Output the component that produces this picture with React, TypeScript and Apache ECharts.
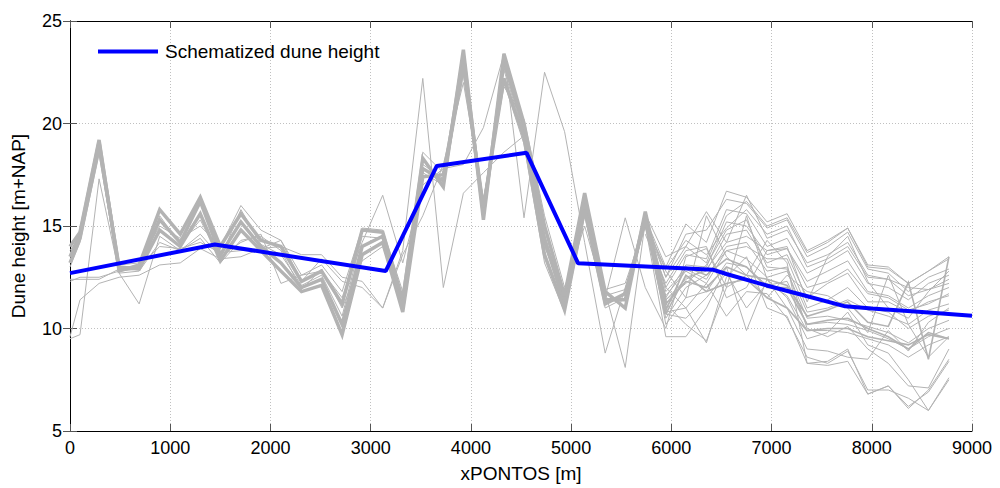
import React, { useEffect, useRef } from "react";
import * as echarts from "echarts";

// Sample positions along the coast [m]
const X = [0, 100, 290, 490, 690, 895, 1100, 1300, 1500, 1705, 1905, 2105, 2310, 2510, 2715, 2915, 3120, 3320, 3520, 3725, 3925, 4125, 4330, 4530, 4735, 4935, 5135, 5340, 5540, 5740, 5945, 6145, 6350, 6550, 6750, 6955, 7155, 7355, 7560, 7760, 7960, 8165, 8365, 8565, 8770];

// Dense bundle of profiles (drawn thicker where they overlap)
const BUNDLE_A = [13.5, 14.6, 19.1, 12.9, 13.0, 15.3, 14.2, 16.2, 13.6, 15.2, 14.0, 13.2, 12.0, 12.4, 10.2, 14.0, 14.5, 11.0, 17.8, 17.2, 23.3, 15.6, 23.0, 19.8, 14.3, 11.2, 16.2, 11.4, 11.4, 15.5, 10.9, 13.0, 12.6, 13.4, 13.0, 12.0, 12.0, 10.2, 10.4, 10.5, 10.0, 9.6, 9.0, 9.8, 9.5];
const BUNDLE_B = [14.0, 14.7, 19.2, 12.8, 13.1, 15.8, 14.6, 16.4, 14.0, 15.6, 14.3, 14.0, 12.3, 12.8, 11.2, 14.8, 14.7, 11.4, 18.3, 16.9, 23.6, 15.3, 23.4, 20.0, 15.0, 11.6, 16.6, 11.8, 11.0, 15.7, 11.2, 12.3, 12.0, 13.0, 12.6, 12.4, 12.1, 10.6, 10.9, 11.3, 10.3, 10.1, 12.25, 8.5, 13.5];
const BUNDLE_C = [13.2, 14.4, 18.9, 13.0, 12.9, 14.8, 14.0, 15.6, 13.3, 14.8, 13.8, 12.8, 11.8, 12.1, 9.7, 13.6, 14.2, 10.8, 17.4, 17.5, 22.8, 15.9, 22.2, 19.3, 13.6, 10.9, 15.8, 11.2, 11.7, 15.3, 10.7, 12.6, 11.8, 12.2, 12.4, 11.5, 11.0, 9.9, 10.0, 10.0, 9.6, 9.4, 9.2, 9.7, 9.5];
// Index from which the bundle spreads out (drawn thin)
const BUNDLE_SPLIT = 30;

// Individual profiles over the full length
const PROFILE_1 = [9.6, 11.4, 12.2, 12.5, 12.6, 13.1, 13.2, 13.9, 13.4, 13.5, 13.9, 14.0, 13.6, 13.6, 12.5, 12.3, 11.0, 13.8, 22.2, 12.0, 16.6, 17.6, 18.6, 19.4, 14.5, 11.5, 16.0, 11.8, 8.1, 15.2, 12.5, 14.0, 13.2, 15.5, 16.2, 15.0, 15.4, 13.7, 14.2, 14.9, 13.0, 12.9, 12.2, 12.8, 13.5];
const PROFILE_2 = [9.5, 9.7, 17.3, 12.7, 11.2, 14.5, 13.8, 14.6, 13.5, 14.2, 14.6, 12.2, 12.6, 12.8, 11.5, 14.2, 16.5, 13.2, 17.0, 17.8, 18.0, 19.8, 23.4, 15.4, 22.5, 19.6, 14.2, 8.8, 12.0, 15.0, 12.0, 11.0, 9.3, 12.5, 13.5, 11.0, 10.6, 8.3, 8.4, 9.0, 6.8, 7.2, 6.1, 7.0, 8.5];
const PROFILE_3 = [12.4, 12.4, 12.4, 12.9, 13.0, 14.0, 13.9, 14.2, 13.7, 13.8, 13.9, 14.3, 12.3, 13.4, 12.3, 12.0, 11.0, 13.6, 15.5, 18.0, 22.0, 16.3, 21.8, 20.2, 15.5, 12.0, 15.0, 11.5, 15.4, 12.0, 10.0, 13.5, 13.9, 12.0, 15.5, 12.4, 11.5, 9.5, 9.8, 10.8, 9.2, 8.8, 7.5, 6.0, 7.5];
const PROFILE_4 = [13.8, 14.5, 18.8, 13.1, 13.2, 15.0, 14.4, 15.0, 14.0, 16.0, 14.8, 14.3, 12.6, 13.1, 11.8, 14.9, 14.8, 11.8, 18.6, 17.6, 23.0, 16.2, 22.6, 19.5, 14.0, 11.5, 16.0, 11.9, 12.2, 15.1, 12.9, 14.3, 13.6, 14.9, 15.8, 14.6, 15.0, 13.0, 13.4, 14.0, 12.5, 12.4, 11.6, 11.9, 12.4];
const PROFILE_5 = [13.0, 14.2, 18.5, 12.7, 12.8, 14.2, 13.8, 14.4, 13.2, 14.3, 14.5, 13.8, 11.9, 12.9, 11.0, 13.3, 14.0, 11.2, 17.6, 17.0, 22.4, 15.8, 22.0, 19.0, 13.2, 10.8, 15.5, 11.0, 11.5, 15.0, 11.6, 12.8, 12.2, 13.8, 14.0, 13.4, 13.4, 11.0, 11.4, 12.0, 11.0, 10.8, 10.0, 10.6, 10.9];
const PROFILE_6 = [12.3, 12.5, 12.5, 12.8, 12.9, 15.5, 14.1, 15.3, 13.4, 15.8, 14.1, 13.6, 12.1, 12.6, 10.6, 14.5, 14.4, 11.3, 18.0, 17.3, 23.2, 15.5, 22.8, 19.6, 14.6, 11.4, 16.4, 11.6, 11.9, 15.4, 11.4, 12.4, 12.9, 14.2, 14.5, 13.8, 13.9, 12.0, 12.3, 12.9, 11.7, 11.5, 10.9, 11.2, 11.7];

// Profiles that diverge east of 5740 m (values from X[29] onwards)
const EAST_START = 29;
const EAST_1 = [15.4, 13.0, 15.1, 14.2, 16.7, 16.4, 15.2, 15.6, 13.8, 14.3, 14.9, 13.1, 13.0, 12.2, 12.8, 13.4];
const EAST_2 = [15.5, 12.5, 14.6, 14.8, 16.3, 16.1, 14.9, 15.3, 13.5, 14.0, 14.7, 12.9, 12.7, 11.8, 12.5, 12.9];
const EAST_3 = [15.6, 13.5, 14.0, 15.7, 14.2, 16.5, 14.4, 14.8, 13.2, 13.6, 14.2, 12.6, 12.4, 12.0, 11.9, 12.2];
const EAST_4 = [15.3, 12.0, 13.6, 13.4, 15.8, 15.6, 14.0, 14.4, 12.7, 13.2, 13.8, 12.2, 12.0, 11.4, 12.2, 12.6];
const EAST_5 = [15.2, 11.5, 13.1, 13.0, 15.2, 15.0, 13.6, 13.9, 12.3, 12.8, 13.3, 11.8, 11.6, 11.0, 11.6, 12.0];
const EAST_6 = [15.0, 11.0, 12.5, 12.8, 14.6, 14.8, 13.2, 13.6, 11.5, 12.2, 12.7, 11.3, 11.3, 10.8, 11.3, 11.6];
const EAST_7 = [15.4, 11.8, 12.9, 12.4, 14.0, 14.2, 12.8, 13.0, 10.8, 11.0, 11.4, 10.9, 10.6, 10.2, 10.9, 11.2];
const EAST_8 = [15.1, 10.5, 12.0, 12.6, 13.8, 13.4, 12.5, 12.8, 10.5, 10.6, 10.4, 10.1, 9.8, 9.3, 10.0, 10.4];
const EAST_9 = [15.5, 10.2, 11.5, 11.8, 13.2, 13.0, 12.1, 12.3, 10.2, 10.3, 10.2, 9.9, 9.5, 9.0, 9.6, 10.0];
const EAST_10 = [15.6, 10.7, 10.5, 11.5, 12.7, 11.0, 12.2, 11.6, 9.9, 9.9, 9.8, 9.5, 9.2, 8.6, 9.2, 9.6];
const EAST_11 = [15.0, 9.6, 9.6, 11.0, 13.0, 9.9, 12.4, 11.0, 9.0, 8.9, 8.6, 8.5, 9.9, 8.9, 10.3, 11.0];
const EAST_12 = [15.4, 11.2, 10.2, 9.4, 12.0, 12.6, 14.3, 13.2, 8.3, 8.2, 8.4, 6.8, 7.2, 6.2, 6.9, 8.4];
const EAST_13 = [15.3, 10.8, 11.0, 12.2, 10.6, 11.8, 11.7, 10.5, 8.6, 8.3, 8.9, 7.0, 7.0, 6.6, 6.0, 7.6];
const EAST_14 = [14.6, 12.2, 13.8, 14.0, 11.5, 12.0, 13.8, 14.0, 11.3, 13.5, 14.5, 12.3, 11.0, 10.5, 11.8, 12.8];
const EAST_15 = [15.2, 12.8, 11.5, 15.5, 13.5, 12.6, 11.5, 12.6, 11.8, 11.6, 11.0, 9.8, 12.6, 10.2, 8.6, 9.6];
const EAST_16 = [15.4, 11.4, 12.2, 13.1, 14.8, 15.3, 13.0, 12.9, 10.0, 9.6, 10.1, 9.0, 8.3, 7.2, 7.1, 9.0];

// Schematized dune height
const SCHEMA_X = [0, 1445, 3150, 3660, 4555, 5070, 6420, 6550, 6950, 7320, 7735, 8000, 8500, 9000];
const SCHEMA_Y = [12.7, 14.1, 12.8, 17.93, 18.57, 13.18, 12.86, 12.66, 12.1, 11.62, 11.08, 10.98, 10.8, 10.62];

const X_TICKS = [0, 1000, 2000, 3000, 4000, 5000, 6000, 7000, 8000, 9000];
const Y_TICKS = [5, 10, 15, 20, 25];

const GRAY = "#b3b3b3";
const FONT = "Liberation Sans, Arial, Helvetica, sans-serif";

function pairs(xs: number[], ys: number[]) {
  return ys.map((y, i) => [xs[i], y]);
}

export default function App() {
  const ref = useRef<HTMLDivElement>(null);

  useEffect(() => {
    if (!ref.current) return;
    const chart = echarts.init(ref.current, undefined, { renderer: "svg" });

    const bundles = [BUNDLE_A, BUNDLE_B, BUNDLE_C];
    const profiles = [PROFILE_1, PROFILE_2, PROFILE_3, PROFILE_4, PROFILE_5, PROFILE_6];
    const east = [EAST_1, EAST_2, EAST_3, EAST_4, EAST_5, EAST_6, EAST_7, EAST_8, EAST_9, EAST_10, EAST_11, EAST_12, EAST_13, EAST_14, EAST_15, EAST_16];
    const eastX = X.slice(EAST_START);

    const grayLine = (data: number[][], width: number) => ({
      type: "line",
      xAxisIndex: 0,
      yAxisIndex: 0,
      data,
      showSymbol: false,
      symbol: "none",
      silent: true,
      lineStyle: { color: GRAY, width, join: "miter" },
      z: 2,
    });

    const series: any[] = [];
    east.forEach((v) => series.push(grayLine(pairs(eastX, v), 1)));
    profiles.forEach((v) => series.push(grayLine(pairs(X, v), 1)));
    bundles.forEach((v) => {
      const all = pairs(X, v);
      series.push(grayLine(all.slice(BUNDLE_SPLIT), 1.6));
      series.push(grayLine(all.slice(0, BUNDLE_SPLIT + 1), 3.5));
    });
    series.push({
      name: "Schematized dune height",
      type: "line",
      xAxisIndex: 0,
      yAxisIndex: 0,
      data: pairs(SCHEMA_X, SCHEMA_Y),
      showSymbol: false,
      symbol: "none",
      silent: true,
      lineStyle: { color: "#0000ff", width: 4 },
      itemStyle: { color: "#0000ff" },
      z: 5,
    });

    const tickLabel = {
      color: "#000",
      fontSize: 18,
      fontFamily: FONT,
      formatter: (v: number) => String(v),
    };
    const nameStyle = { color: "#000", fontSize: 19, fontFamily: FONT };

    chart.setOption({
      animation: false,
      backgroundColor: "#fff",
      grid: { left: 70, right: 28, top: 21, bottom: 53, containLabel: false },
      legend: {
        data: ["Schematized dune height"],
        left: 93,
        top: 37,
        icon: "rect",
        itemWidth: 60,
        itemHeight: 4,
        itemGap: 5,
        textStyle: { color: "#000", fontSize: 19, fontFamily: FONT, padding: [0, 0, 0, 2] },
        selectedMode: false,
      },
      xAxis: [
        {
          type: "value",
          min: X_TICKS[0],
          max: X_TICKS[X_TICKS.length - 1],
          interval: 1000,
          position: "bottom",
          name: "xPONTOS [m]",
          nameLocation: "middle",
          nameGap: 33,
          nameTextStyle: nameStyle,
          axisLine: { show: true, lineStyle: { color: "#000", width: 1 } },
          axisTick: { show: true, inside: true, length: 7, lineStyle: { color: "#555" } },
          axisLabel: { ...tickLabel, margin: 8 },
          splitLine: { show: true, lineStyle: { color: "#c0c0c0", type: [1, 2], width: 1 } },
        },
        {
          type: "value",
          min: X_TICKS[0],
          max: X_TICKS[X_TICKS.length - 1],
          interval: 1000,
          position: "top",
          axisLine: { show: true, lineStyle: { color: "#000", width: 1 } },
          axisTick: { show: true, inside: true, length: 7, lineStyle: { color: "#555" } },
          axisLabel: { show: false },
          splitLine: { show: false },
        },
      ],
      yAxis: [
        {
          type: "value",
          min: Y_TICKS[0],
          max: Y_TICKS[Y_TICKS.length - 1],
          interval: 5,
          position: "left",
          name: "Dune height [m+NAP]",
          nameLocation: "middle",
          nameGap: 42,
          nameRotate: 90,
          nameTextStyle: nameStyle,
          axisLine: { show: true, lineStyle: { color: "#000", width: 1 } },
          axisTick: { show: true, inside: true, length: 7, lineStyle: { color: "#555" } },
          axisLabel: { ...tickLabel, margin: 8 },
          splitLine: { show: true, lineStyle: { color: "#c0c0c0", type: [1, 2], width: 1 } },
        },
        {
          type: "value",
          min: Y_TICKS[0],
          max: Y_TICKS[Y_TICKS.length - 1],
          interval: 5,
          position: "right",
          axisLine: { show: true, lineStyle: { color: "#000", width: 1 } },
          axisTick: { show: true, inside: true, length: 7, lineStyle: { color: "#555" } },
          axisLabel: { show: false },
          splitLine: { show: false },
        },
      ],
      series,
    });

    return () => chart.dispose();
  }, []);

  return (
    <div
      ref={ref}
      style={{ position: "fixed", left: 0, top: 0, width: 1000, height: 488 }}
    />
  );
}
